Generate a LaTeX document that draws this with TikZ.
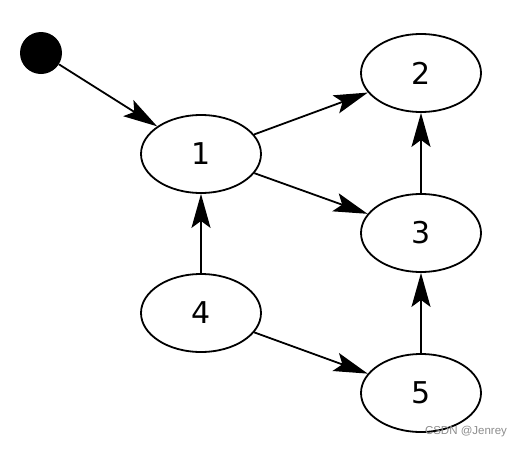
\documentclass[tikz,border=0pt]{standalone}
\usepackage{fontspec}
\setmainfont{DejaVu Sans}
\newfontfamily\markfont{Liberation Sans}
\usetikzlibrary{arrows.meta,shapes.geometric}
\begin{document}
\begin{tikzpicture}[x=1pt,y=-1pt,
  state/.style={draw, ellipse, line width=1.8pt, minimum width=120pt, minimum height=78pt, inner sep=0pt, font=\fontsize{30}{30}\selectfont},
  edge/.style={line width=1.8pt, -{Stealth[length=34pt, width=19pt, inset=7pt]}}]
\useasboundingbox (0,0) rectangle (520,448);
\node [circle, fill=black, minimum size=42pt, inner sep=0pt] (s) at (41,53) {};
\node [state] (n1) at (201,154) {1};
\node [state] (n2) at (421,73) {2};
\node [state] (n3) at (421,233) {3};
\node [state] (n4) at (201,313) {4};
\node [state] (n5) at (421,393) {5};
\draw [edge] (s) -- (n1);
\draw [edge] (n1) -- (n2);
\draw [edge] (n1) -- (n3);
\draw [edge] (n3) -- (n2);
\draw [edge] (n4) -- (n1);
\draw [edge] (n4) -- (n5);
\draw [edge] (n5) -- (n3);
\node [text=black!45, font=\markfont\fontsize{11.5}{11.5}\selectfont] (wm) at (466,432) {CSDN @Jenrey};
\end{tikzpicture}
\end{document}
